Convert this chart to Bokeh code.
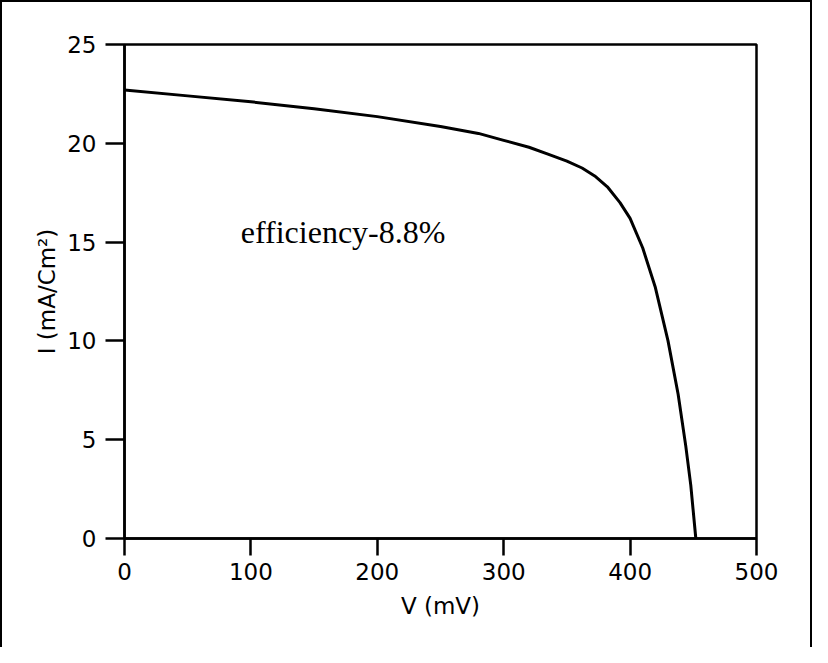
from bokeh.plotting import figure
from bokeh.models import Range1d, FixedTicker, Label
from bokeh.embed import file_html
from bokeh.resources import INLINE

# I-V curve
voltage_mV = [0, 50, 100, 150, 200, 250, 280, 300, 320, 335, 350, 362, 372,
              382, 392, 400, 410, 420, 430, 438, 444, 448, 452]
current_mA = [22.7, 22.4, 22.1, 21.75, 21.35, 20.85, 20.5, 20.15, 19.8, 19.45,
              19.1, 18.75, 18.35, 17.8, 17.0, 16.2, 14.7, 12.7, 10.0, 7.3,
              4.7, 2.7, 0.0]

x_ticks = [0, 100, 200, 300, 400, 500]
y_ticks = [0, 5, 10, 15, 20, 25]
annotation = "efficiency-8.8%"

TICK_FONT = "DejaVu Sans"

p = figure(frame_width=632, frame_height=494,
           x_range=Range1d(0, 500), y_range=Range1d(0, 25),
           output_backend="svg", toolbar_location=None,
           min_border_left=122, min_border_right=54,
           min_border_top=42, min_border_bottom=109)
p.styles = {"border-left": "2px solid black", "border-top": "2px solid black",
            "border-right": "2px solid black"}
p.grid.visible = False
p.outline_line_color = "black"
p.outline_line_width = 2.5
p.background_fill_color = "white"
p.border_fill_color = "white"

p.xaxis.ticker = FixedTicker(ticks=x_ticks)
p.yaxis.ticker = FixedTicker(ticks=y_ticks)
for ax in (p.xaxis[0], p.yaxis[0]):
    ax.axis_line_width = 2.5
    ax.axis_line_color = "black"
    ax.major_tick_line_width = 2.5
    ax.major_tick_line_color = "black"
    ax.major_tick_in = 0
    ax.minor_tick_in = 0
    ax.minor_tick_out = 0
    ax.major_label_text_font = TICK_FONT
    ax.major_label_text_font_size = "23px"
    ax.major_label_text_color = "black"
    ax.axis_label_text_font = TICK_FONT
    ax.axis_label_text_font_size = "23px"
    ax.axis_label_text_font_style = "normal"
    ax.axis_label_text_color = "black"

p.xaxis.major_tick_out = 17
p.yaxis.major_tick_out = 19
p.xaxis.major_label_standoff = 7
p.yaxis.major_label_standoff = 9
p.xaxis.axis_label = "V (mV)"
p.yaxis.axis_label = "I (mA/Cm\u00b2)"
p.xaxis.axis_label_standoff = 10
p.yaxis.axis_label_standoff = 4

p.line(voltage_mV, current_mA, line_width=3, line_color="black",
       line_join="round")

p.add_layout(Label(x=92, y=15.5, text=annotation,
                   text_font="Liberation Serif", text_font_size="32px",
                   text_color="black", text_baseline="alphabetic"))

open("out.html", "w").write(file_html(p, INLINE))
